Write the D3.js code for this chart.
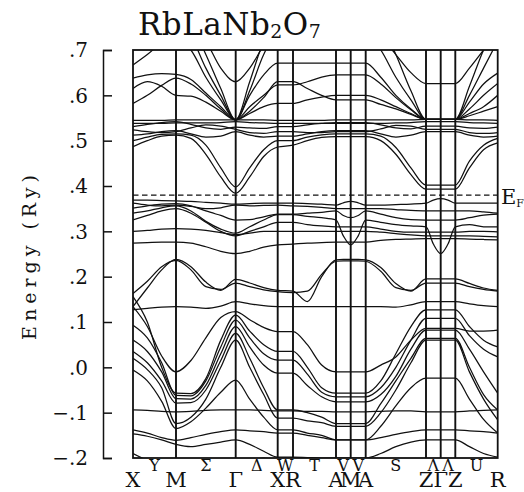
<!DOCTYPE html>
<html>
<head>
<meta charset="utf-8">
<script src="https://cdnjs.cloudflare.com/ajax/libs/d3/7.8.5/d3.min.js"></script>
<style>
  body { margin: 0; background: #fff; }
  svg text { font-family: "DejaVu Serif", "Liberation Serif", serif; fill: #111; }
  .band { fill: none; stroke: #111; stroke-width: 1.25; }
  .sym { stroke: #111; stroke-width: 1.9; }
  .frame { fill: none; stroke: #111; stroke-width: 1.8; }
  .fermi { stroke: #111; stroke-width: 1.2; stroke-dasharray: 5.5,3.5; }
</style>
</head>
<body>
<script>
// high symmetry points along the path and their k distance
var symLabels = ['X', 'M', 'Γ', 'X', 'R', 'A', 'M', 'A', 'Z', 'Γ', 'Z', 'R'];
var symK = [0, 0.43, 1.027, 1.447, 1.60, 2.03, 2.177, 2.327, 2.93, 3.077, 3.223, 3.647];
var segLabels = ['Y', 'Σ', 'Δ', 'W', 'T', 'V', 'V', 'S', 'Λ', 'Λ', 'U'];
var segSteps = [3, 4, 3, 1, 3, 2, 2, 4, 2, 2, 3];   // samples per segment
var energyTicks = [-0.2, -0.1, 0.0, 0.1, 0.2, 0.3, 0.4, 0.5, 0.6, 0.7];
var fermiEnergy = 0.38;

// energies (Ry) at the 30 k samples:
// X . . M . . . G . . X R . . A . M . A . . . Z . G . Z . . R
var fanBands = [
  [.760, .760, .760, .760, .760, .720, .660, .630, .660, .710, .750, .750, .760, .760, .760, .760, .760, .760, .760, .730, .690, .650, .626, .626, .626, .626, .626, .660, .700, .740],
  [.780, .780, .780, .780, .760, .690, .615, .546, .630, .720, .770, .770, .780, .780, .780, .780, .780, .780, .780, .760, .690, .610, .547, .547, .547, .547, .547, .620, .700, .760],
  [.760, .760, .760, .760, .730, .660, .600, .546, .610, .690, .740, .740, .740, .740, .740, .740, .740, .740, .740, .700, .640, .590, .547, .547, .547, .547, .547, .600, .660, .720],
  [.667, .690, .715, .725, .700, .640, .590, .546, .600, .645, .671, .671, .671, .671, .671, .671, .671, .671, .671, .640, .600, .570, .547, .547, .547, .547, .547, .585, .625, .649],
  [.638, .645, .648, .646, .635, .605, .575, .546, .575, .600, .623, .623, .630, .640, .645, .645, .645, .645, .645, .625, .595, .568, .547, .547, .547, .547, .547, .570, .600, .626],
  [.615, .630, .620, .600, .598, .585, .565, .546, .560, .575, .582, .582, .590, .596, .600, .600, .600, .600, .600, .590, .575, .560, .547, .547, .547, .547, .547, .560, .575, .600],
  [.582, .600, .622, .638, .625, .600, .570, .546, .565, .595, .630, .630, .615, .600, .590, .590, .590, .590, .590, .580, .570, .558, .547, .547, .547, .547, .547, .555, .565, .575]
];
var flatBands = [
  [.545, .545, .545, .546, .546, .546, .546, .546, .546, .546, .545, .545, .545, .545, .546, .546, .546, .546, .546, .546, .546, .546, .547, .547, .547, .547, .547, .546, .546, .545],
  [.538, .538, .538, .539, .539, .539, .540, .542, .540, .539, .538, .538, .538, .538, .538, .538, .538, .538, .538, .538, .539, .540, .542, .542, .542, .542, .542, .540, .539, .538],
  [.531, .536, .540, .542, .536, .528, .525, .530, .528, .527, .531, .531, .535, .538, .540, .540, .540, .540, .540, .535, .528, .526, .532, .532, .532, .532, .532, .528, .527, .530],
  [.524, .520, .518, .520, .528, .535, .532, .525, .518, .516, .520, .520, .518, .518, .520, .520, .520, .520, .520, .526, .534, .532, .525, .525, .525, .525, .525, .518, .516, .518],
  [.512, .515, .520, .522, .515, .508, .510, .520, .512, .508, .510, .510, .515, .520, .522, .522, .522, .522, .522, .515, .508, .512, .520, .520, .520, .520, .520, .512, .508, .510]
];
var dipBands = [
  [.487, .500, .510, .512, .505, .470, .420, .384, .420, .465, .486, .490, .500, .507, .509, .509, .509, .509, .509, .500, .470, .425, .393, .393, .393, .393, .393, .440, .480, .495],
  [.500, .508, .514, .515, .512, .490, .440, .398, .440, .480, .500, .500, .508, .513, .515, .515, .515, .515, .515, .510, .485, .440, .402, .402, .402, .402, .402, .455, .490, .505]
];
var topValence = [
  [.369, .369, .368, .367, .366, .364, .362, .360, .361, .362, .362, .362, .361, .360, .358, .363, .366, .363, .358, .358, .359, .360, .362, .369, .372, .369, .362, .362, .362, .362],
  [.362, .358, .356, .358, .355, .350, .352, .358, .356, .357, .358, .356, .355, .353, .350, .350, .350, .350, .350, .350, .348, .346, .345, .345, .345, .345, .345, .345, .343, .340],
  [.351, .356, .360, .361, .356, .345, .335, .325, .326, .332, .338, .338, .340, .342, .345, .335, .330, .335, .345, .338, .330, .326, .325, .325, .325, .325, .325, .330, .336, .338],
  [.340, .345, .352, .356, .345, .322, .305, .296, .310, .325, .337, .337, .333, .330, .325, .290, .270, .290, .325, .320, .315, .312, .310, .272, .251, .272, .310, .315, .310, .310],
  [.325, .335, .345, .350, .340, .320, .300, .290, .300, .310, .320, .320, .315, .312, .310, .310, .310, .310, .310, .305, .300, .298, .298, .298, .298, .298, .298, .300, .300, .299],
  [.300, .302, .305, .306, .305, .302, .297, .293, .296, .300, .300, .300, .300, .300, .300, .300, .300, .300, .300, .298, .295, .292, .290, .290, .290, .290, .290, .290, .289, .288],
  [.274, .275, .276, .276, .274, .266, .256, .251, .256, .265, .270, .272, .274, .275, .276, .276, .276, .276, .276, .280, .282, .283, .284, .284, .284, .284, .284, .283, .282, .281]
];
var lowerBands = [
  [.134, .175, .215, .238, .222, .188, .170, .194, .186, .176, .170, .168, .145, .200, .237, .238, .238, .238, .237, .220, .185, .168, .195, .195, .195, .195, .195, .185, .175, .170],
  [.163, .190, .222, .236, .215, .178, .172, .186, .178, .171, .167, .165, .168, .205, .234, .235, .235, .235, .234, .212, .176, .170, .186, .186, .186, .186, .186, .178, .172, .168],
  [.127, .130, .133, .134, .133, .130, .135, .145, .140, .136, .134, .134, .134, .134, .134, .134, .134, .134, .134, .134, .133, .138, .145, .145, .145, .145, .145, .140, .136, .134],
  [.134, .090, .025, -.010, .015, .065, .110, .123, .105, .088, .079, .079, .050, .005, -.010, -.010, -.010, -.010, -.010, .005, .023, .060, .086, .086, .086, .086, .086, .080, .080, .082],
  [.156, .100, .000, -.057, -.058, -.025, .060, .115, .080, .050, .035, .035, .000, -.045, -.057, -.057, -.057, -.057, -.057, -.030, .030, .090, .127, .127, .127, .127, .127, .090, .060, .045],
  [.093, .065, .010, -.062, -.063, -.030, .045, .104, .065, .030, .016, .016, -.015, -.055, -.065, -.065, -.065, -.065, -.065, -.045, .000, .060, .108, .108, .108, .108, .108, .070, .040, .023],
  [.060, .035, -.010, -.069, -.070, -.040, .030, .090, .045, .005, -.013, -.013, -.040, -.065, -.076, -.076, -.076, -.076, -.076, -.060, -.020, .040, .082, .082, .082, .082, .082, .040, -.010, -.057],
  [.035, .010, -.030, -.079, -.078, -.050, .015, .075, .020, -.045, -.094, -.094, -.100, -.110, -.124, -.124, -.124, -.124, -.124, -.080, -.030, .020, .064, .064, .064, .064, .064, .000, -.060, -.094],
  [.020, -.005, -.045, -.124, -.110, -.070, .000, .060, .000, -.060, -.112, -.112, -.118, -.122, -.130, -.130, -.130, -.130, -.130, -.100, -.050, .010, .060, .060, .060, .060, .060, -.010, -.070, -.116],
  [-.006, -.030, -.075, -.135, -.120, -.090, -.055, -.028, -.070, -.110, -.138, -.138, -.145, -.150, -.160, -.160, -.160, -.160, -.160, -.130, -.085, -.045, -.024, -.024, -.024, -.024, -.024, -.070, -.115, -.145],
  [-.094, -.095, -.097, -.098, -.097, -.095, -.094, -.094, -.094, -.095, -.096, -.096, -.097, -.097, -.098, -.098, -.098, -.098, -.098, -.097, -.096, -.096, -.098, -.098, -.098, -.098, -.098, -.096, -.095, -.094],
  [-.138, -.145, -.155, -.161, -.155, -.148, -.142, -.138, -.140, -.142, -.145, -.145, -.150, -.155, -.160, -.160, -.160, -.160, -.160, -.155, -.148, -.142, -.138, -.138, -.138, -.138, -.138, -.140, -.142, -.145],
  [-.147, -.152, -.160, -.170, -.175, -.170, -.165, -.160, -.170, -.185, -.198, -.198, -.199, -.200, -.200, -.200, -.200, -.200, -.200, -.190, -.175, -.165, -.160, -.160, -.160, -.160, -.160, -.175, -.190, -.198],
  [-.190, -.205, -.215, -.220, -.220, -.220, -.215, -.210, -.205, -.200, -.205, -.205, -.210, -.215, -.220, -.220, -.220, -.220, -.220, -.220, -.220, -.215, -.210, -.210, -.210, -.210, -.210, -.205, -.205, -.210]
];

var width = 524, height = 492;
var plotLeft = 133, plotRight = 497.7, plotTop = 50, plotBottom = 458;

var svg = d3.select('body').append('svg')
  .attr('width', width)
  .attr('height', height);

var x = d3.scaleLinear().domain([symK[0], symK[symK.length - 1]]).range([plotLeft, plotRight]);
var y = d3.scaleLinear().domain([-0.2, 0.7]).range([plotBottom, plotTop]);

// k value of every sample
var kSamples = [];
segSteps.forEach(function (n, i) {
  for (var j = 0; j < n; j++) kSamples.push(symK[i] + (symK[i + 1] - symK[i]) * j / n);
});
kSamples.push(symK[symK.length - 1]);

svg.append('clipPath').attr('id', 'plot')
  .append('rect')
  .attr('x', plotLeft).attr('y', plotTop)
  .attr('width', plotRight - plotLeft).attr('height', plotBottom - plotTop);

var line = d3.line()
  .x(function (d, i) { return x(kSamples[i]); })
  .y(function (d) { return y(d); })
  .curve(d3.curveMonotoneX);

var allBands = fanBands.concat(flatBands, dipBands, topValence, lowerBands);

svg.append('g')
  .attr('clip-path', 'url(#plot)')
  .selectAll('path')
  .data(allBands)
  .enter().append('path')
    .attr('class', 'band')
    .attr('d', line);

// Fermi level
svg.append('line')
  .attr('class', 'fermi')
  .attr('x1', plotLeft).attr('x2', plotRight)
  .attr('y1', y(fermiEnergy)).attr('y2', y(fermiEnergy));

// vertical lines at the symmetry points
svg.selectAll('.sym')
  .data(symK.slice(1, -1))
  .enter().append('line')
    .attr('class', 'sym')
    .attr('x1', function (d) { return x(d); })
    .attr('x2', function (d) { return x(d); })
    .attr('y1', plotTop).attr('y2', plotBottom);

svg.append('rect')
  .attr('class', 'frame')
  .attr('x', plotLeft).attr('y', plotTop)
  .attr('width', plotRight - plotLeft).attr('height', plotBottom - plotTop);

// detached energy axis
var axis = svg.append('g')
  .attr('transform', 'translate(103,0)')
  .call(d3.axisRight(y).tickValues(energyTicks).tickSize(9).tickFormat(''));
axis.selectAll('path, line').attr('stroke', '#111').attr('stroke-width', 1.5);

svg.selectAll('.ylab')
  .data(energyTicks)
  .enter().append('text')
    .attr('class', 'ylab')
    .attr('x', 88)
    .attr('y', function (d) { return y(d); })
    .attr('dy', '0.36em')
    .attr('text-anchor', 'end')
    .style('font-size', '20px')
    .text(function (d) { return d.toFixed(1).replace('0.', '.').replace('-', '−'); });

svg.append('text')
  .attr('transform', 'translate(36,255) rotate(-90)')
  .attr('text-anchor', 'middle')
  .style('font-size', '19px')
  .style('letter-spacing', '5px')
  .text('Energy (Ry)');

// title
var title = svg.append('text')
  .attr('x', 138).attr('y', 35)
  .style('font-size', '31px')
  .style('letter-spacing', '0.5px');
title.append('tspan').text('RbLaNb');
title.append('tspan').attr('dy', 3).style('font-size', '19px').text('2');
title.append('tspan').attr('dy', -3).text('O');
title.append('tspan').attr('dy', 3).style('font-size', '19px').text('7');

// E_F label
var ef = svg.append('text')
  .attr('x', 501).attr('y', y(fermiEnergy) + 9)
  .style('font-size', '21px');
ef.append('tspan').text('E');
ef.append('tspan').attr('dy', 3).style('font-size', '11px').text('F');

// k labels
svg.selectAll('.klab')
  .data(symK)
  .enter().append('text')
    .attr('class', 'klab')
    .attr('x', function (d) { return x(d); })
    .attr('y', 487)
    .attr('text-anchor', 'middle')
    .style('font-size', '21px')
    .text(function (d, i) { return symLabels[i]; });

svg.selectAll('.seglab')
  .data(segLabels)
  .enter().append('text')
    .attr('class', 'seglab')
    .attr('x', function (d, i) { return x((symK[i] + symK[i + 1]) / 2); })
    .attr('y', 471)
    .attr('text-anchor', 'middle')
    .style('font-size', '16px')
    .text(function (d) { return d; });
</script>
</body>
</html>
